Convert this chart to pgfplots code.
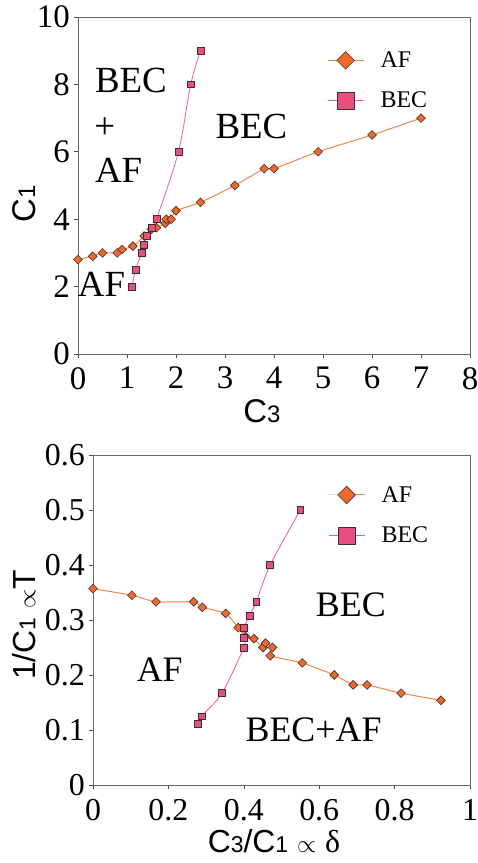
\documentclass[border=0pt]{standalone}
\usepackage{pgfplots}
\pgfplotsset{compat=1.18}
\usepackage{fontspec}
\setmainfont{Liberation Serif}
\newfontfamily\arialf{Liberation Sans}
\definecolor{afor}{HTML}{F0682A}
\definecolor{afline}{HTML}{F2844E}
\definecolor{becp}{HTML}{E8507C}
\definecolor{becline}{HTML}{EC5F86}
\definecolor{mkedge}{HTML}{3A3030}
\newcommand{\fs}[1]{\fontsize{#1}{#1}\selectfont}
\pgfplotsset{
  common/.style={
    scale only axis,
    anchor=south west,
    axis line style={black!60},
    tick align=outside,
    xtick pos=bottom, ytick pos=left,
    major tick length=4bp,
    tick style={black!70, line width=0.6pt},
    /pgf/number format/assume math mode=true,
    clip=false,
    legend cell align=left,
    legend style={draw=none, fill=none, inner sep=0pt, row sep=23bp,
      font=\fs{24}, nodes={inner sep=0pt, outer sep=0pt}},
  },
  afmark/.style={draw=afline, line width=1pt, mark=square*, mark size=3.1bp,
    mark options={rotate=45, fill=afor, draw=mkedge, line width=0.6pt, solid}},
  becmark/.style={draw=becline, line width=0.8pt, mark=square*, mark size=3.4bp,
    mark options={fill=becp, draw=mkedge, line width=0.6pt, solid}},
}
\begin{document}
\begin{tikzpicture}
\useasboundingbox (0,0) rectangle (478bp,863bp);
% ---------------- top panel ----------------
\begin{axis}[common,
  at={(78bp,509bp)}, width=392bp, height=337bp,
  xmin=0, xmax=8, ymin=0, ymax=10,
  xtick={0,1,...,8}, ytick={0,2,...,10},
  xticklabel style={font=\fs{33}, inner sep=0pt, yshift=-9bp},
  yticklabel style={font=\fs{33}, inner sep=0pt, xshift=-4bp},
  xlabel={\arialf\fs{33}C{\fs{24}3}},
  ylabel={\arialf\fs{33}C{\fs{24}1}},
  xlabel style={at={(axis description cs:0.469,-0.17)}, anchor=center, inner sep=0pt},
  ylabel style={at={(axis description cs:-0.138,0.445)}, anchor=center, inner sep=0pt, rotate=0},
  legend style={at={(axis description cs:0.635,0.898)}, anchor=north west},
  legend image code/.code={
    \draw[#1, mark repeat=2, mark phase=2] plot coordinates {(0bp,0bp) (18bp,0bp) (36bp,0bp)};
  },
]
\addlegendimage{afmark, mark size=6.2bp}
\addlegendentry{\hspace{16.5bp}AF}
\addlegendimage{becmark, mark size=8.5bp}
\addlegendentry{\hspace{16.5bp}BEC}
\addplot[afmark, smooth, tension=0.4, forget plot] coordinates {
(0,2.8) (0.3,2.9) (0.5,3.0) (0.8,3.0) (0.9,3.1) (1.12,3.2) (1.35,3.5) (1.5,3.7)
(1.6,3.75) (1.78,3.88) (1.8,4.0) (1.9,4.0) (2.0,4.25) (2.5,4.5) (3.2,5.0)
(3.8,5.5) (4.0,5.5) (4.9,6.0) (6.0,6.5) (7.0,7.0)};
\addplot[becmark, smooth, tension=0.5, forget plot] coordinates {
(1.1,2.0) (1.175,2.5) (1.3,3.0) (1.35,3.25) (1.4,3.5) (1.5,3.75) (1.6,4.0)
(2.05,6.0) (2.3,8.0) (2.5,9.0)};
\node[font=\fs{37}, anchor=center] at (axis cs:1.08,8.13) {BEC};
\node[font=\fs{37}, anchor=center] at (axis cs:0.545,6.7) {+};
\node[font=\fs{37}, anchor=center] at (axis cs:0.83,5.46) {AF};
\node[font=\fs{37}, anchor=center] at (axis cs:3.54,6.74) {BEC};
\node[font=\fs{37}, anchor=center] at (axis cs:0.48,2.08) {AF};
\end{axis}
% ---------------- bottom panel ----------------
\begin{axis}[common,
  at={(93bp,78bp)}, width=377bp, height=330bp,
  xmin=0, xmax=1, ymin=0, ymax=0.6,
  xtick={0,0.2,...,1}, ytick={0,0.1,...,0.6},
  xticklabel style={font=\fs{32}, inner sep=0pt, yshift=-10bp},
  yticklabel style={font=\fs{32}, inner sep=0pt, xshift=-4bp},
  xlabel={\arialf\fs{32}C{\fs{23}3}/C{\fs{23}1} $\propto$ \fontspec{Liberation Serif}δ},
  ylabel={\arialf\fs{32}1/C{\fs{23}1} $\propto$T},
  xlabel style={at={(axis description cs:0.48,-0.17)}, anchor=center, inner sep=0pt},
  ylabel style={at={(axis description cs:-0.183,0.485)}, anchor=center, inner sep=0pt, rotate=0},
  legend style={at={(axis description cs:0.623,0.906)}, anchor=north west},
  legend image code/.code={
    \draw[#1, mark repeat=2, mark phase=2] plot coordinates {(0bp,0bp) (18bp,0bp) (36bp,0bp)};
  },
]
\addlegendimage{afmark, mark size=6.2bp}
\addlegendentry{\hspace{16.5bp}AF}
\addlegendimage{becmark, mark size=8.5bp}
\addlegendentry{\hspace{16.5bp}BEC}
\addplot[afmark, smooth, tension=0.3, forget plot] coordinates {
(0,0.357) (0.103,0.345) (0.167,0.333) (0.267,0.333) (0.29,0.323) (0.352,0.312)
(0.385,0.286) (0.405,0.27) (0.427,0.266) (0.451,0.25) (0.458,0.258) (0.476,0.25)
(0.47,0.235) (0.555,0.222) (0.64,0.2) (0.69,0.182) (0.727,0.182) (0.817,0.167) (0.923,0.154)};
\addplot[becmark, smooth, tension=0.5, forget plot] coordinates {
(0.278,0.111) (0.288,0.125) (0.342,0.167) (0.4,0.25) (0.4,0.267) (0.4,0.286)
(0.415,0.308) (0.433,0.333) (0.47,0.4) (0.55,0.5)};
\node[font=\fs{36}, anchor=center] at (axis cs:0.684,0.327) {BEC};
\node[font=\fs{36}, anchor=center] at (axis cs:0.177,0.209) {AF};
\node[font=\fs{36}, anchor=center] at (axis cs:0.585,0.1) {BEC+AF};
\end{axis}
\end{tikzpicture}
\end{document}
